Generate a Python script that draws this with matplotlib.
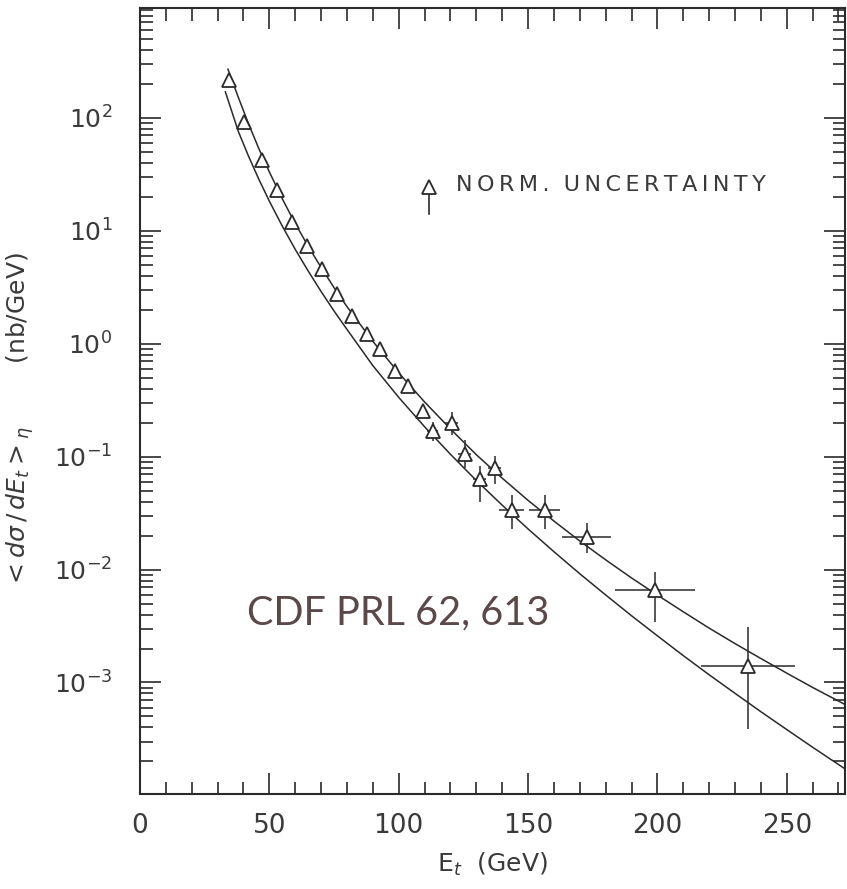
import numpy as np
import matplotlib
matplotlib.use("Agg")
import matplotlib.pyplot as plt
from matplotlib.ticker import MultipleLocator, LogLocator, FixedLocator, NullFormatter

# measured points: E_t (GeV) and <dsigma/dE_t> (nb/GeV)
et = [34.4, 40.2, 47.1, 52.9, 58.7, 64.5, 70.3, 76.1, 81.9, 87.6, 92.7, 98.5,
      103.5, 109.3, 113.1, 120.5, 125.5, 131.3, 137.1, 143.6, 156.4, 172.6, 199.0, 235.0]
xsec = [218, 92, 42.3, 22.9, 11.9, 7.4, 4.6, 2.78, 1.77, 1.23, 0.90, 0.575,
        0.42, 0.254, 0.169, 0.198, 0.105, 0.063, 0.079, 0.034, 0.034, 0.0196, 0.0066, 0.0014]
xsec_lo = [0, 0, 0, 0, 0, 0, 0, 0, 0, 0, 0, 0,
           0, 0, 0.03, 0.043, 0.026, 0.023, 0.022, 0.011, 0.011, 0.0057, 0.0032, 0.00101]
xsec_hi = [0, 0, 0, 0, 0, 0, 0, 0, 0, 0, 0, 0,
           0, 0, 0.035, 0.052, 0.035, 0.019, 0.022, 0.012, 0.012, 0.0060, 0.0030, 0.0017]
et_err = [0, 0, 0, 0, 0, 0, 0, 0, 0, 0, 0, 0,
          0, 0, 2, 2.5, 2.5, 2.5, 2.5, 5, 6, 9.5, 15.5, 18]

# theory curves (upper / lower edge of the band)
curve_et = [34, 38, 42, 46, 50, 55, 60, 65, 70, 75, 80, 90, 100, 110, 120, 130, 140,
            150, 160, 170, 180, 190, 200, 210, 220, 230, 240, 250, 260, 273]
upper_xs = [270, 152, 88.0, 53.0, 33.2, 19.2, 11.6, 7.30, 4.74, 3.14, 2.13, 1.05,
            0.552, 0.305, 0.176, 0.104, 0.0645, 0.0410, 0.0269, 0.0179, 0.0122, 0.00843,
            0.00594, 0.00423, 0.00303, 0.00221, 0.00163, 0.00121, 0.000904, 0.000630]
lower_et = [33, 38, 42, 46, 50, 55, 60, 65, 70, 75, 80, 90, 100, 110, 120, 130, 140,
            150, 160, 170, 180, 190, 200, 210, 220, 230, 240, 250, 260, 273]
lower_xs = [170, 75.9, 45.5, 28.4, 18.3, 11.0, 6.85, 4.41, 2.90, 1.95, 1.34, 0.64,
            0.335, 0.184, 0.105, 0.0615, 0.0372, 0.0229, 0.0144, 0.00918, 0.00596, 0.00390,
            0.00259, 0.00173, 0.00117, 0.000802, 0.000551, 0.000383, 0.000267, 0.000169]

ink = '#2a2a2a'
txt = '#3a3a3a'
fig = plt.figure(figsize=(8.47, 8.89), dpi=100)
ax = fig.add_axes([0.1653, 0.1069, 0.8323, 0.8841])

ax.plot(curve_et, upper_xs, color=ink, lw=1.1)
ax.plot(lower_et, lower_xs, color=ink, lw=1.1)
ax.errorbar(et, xsec, yerr=[xsec_lo, xsec_hi], xerr=et_err, fmt='^', ms=10,
            mfc='white', mec=ink, mew=1.3, ecolor=ink, elinewidth=1.1, capsize=0)

ax.set_yscale('log')
ax.set_xlim(0, 272.5)
ax.set_ylim(1.03e-4, 940)

ax.xaxis.set_major_locator(MultipleLocator(50))
ax.xaxis.set_minor_locator(MultipleLocator(10))
ax.yaxis.set_major_locator(FixedLocator([1e-3, 1e-2, 1e-1, 1, 10, 100]))
ax.yaxis.set_minor_locator(LogLocator(base=10, subs=np.arange(2, 10), numticks=20))
ax.yaxis.set_minor_formatter(NullFormatter())
ax.set_yticklabels(['$10^{-3}$', '$10^{-2}$', '$10^{-1}$', '$10^{0}$', '$10^{1}$', '$10^{2}$'])

ax.tick_params(which='both', direction='in', top=True, right=True, colors=ink,
               labelcolor=txt, width=1.2)
ax.tick_params(which='major', length=15)
ax.tick_params(which='minor', length=9)
ax.tick_params(axis='x', labelsize=19, pad=14)
ax.tick_params(axis='y', labelsize=18, pad=20)
for s in ax.spines.values():
    s.set_linewidth(1.5)
    s.set_color(ink)

ax.set_xlabel('E$_t$  (GeV)', fontsize=18, color=txt, labelpad=8)
fig.text(0.024, 1 - 420 / 889, r'$<d\sigma\,/\,dE_t>_\eta$        (nb/GeV)', rotation=90,
         fontsize=18, color=txt, ha='center', va='center')

# legend symbol
ax.plot([0.41, 0.41], [0.772, 0.738], transform=ax.transAxes, color=ink, lw=1.2)
ax.plot([0.41], [0.772], transform=ax.transAxes, marker='^', ms=10, mfc='white',
        mec=ink, mew=1.3, ls='none')
legend_label = '\u2009'.join('NORM.') + '  ' + '\u2009'.join('UNCERTAINTY')
ax.text(0.448, 0.775, legend_label, transform=ax.transAxes, fontsize=16,
        color=txt, va='center', ha='left')

ax.text(0.152, 0.230, 'CDF PRL 62, 613', transform=ax.transAxes, fontsize=28.5,
        family='Lato', color='#5b4848', va='center', ha='left')

fig.savefig('out.png', dpi=100)
